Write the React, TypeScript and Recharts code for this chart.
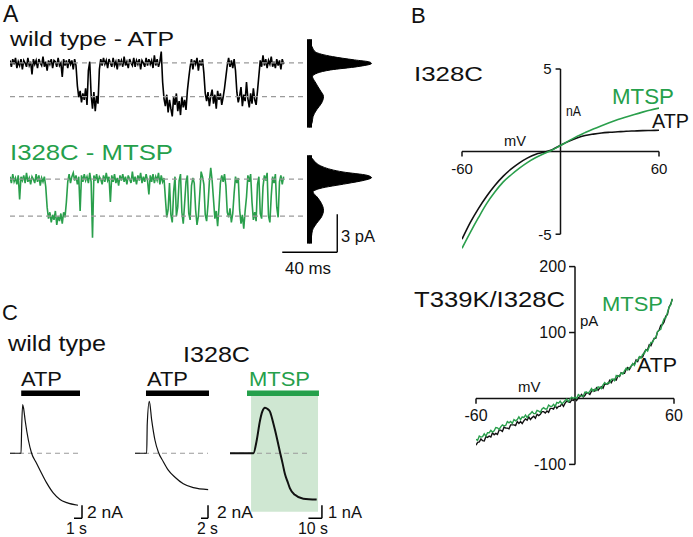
import React from "react"
import { LineChart, Line, XAxis, YAxis, ReferenceLine, ReferenceArea, ComposedChart, Area } from "recharts"

const FONT = '"Liberation Sans", Arial, Helvetica, sans-serif'
const GREEN = "#25a04b"
const GREEN_TRACE = "#2a9f4c"
const SHADE = "#cfe7d2"
const DASH = "#9a9a9a"

// ---- panel A: single channel recordings (pA, one sample per ms) ----
const wtAtpTrace = [
  0.2, -0.3, 0.3, -0.1, 0.4, -0.4, 0.1, -0.2, 0.3, -0.5,
  0.2, 0.0, -0.3, 0.4, -0.2, 0.1, -0.9, 0.3, -0.1, 0.2,
  -0.4, 0.3, 0.0, -0.2, 0.5, -0.3, 0.1, -0.6, 0.2, -0.1,
  0.3, -0.4, 0.2, 0.1, -0.3, 0.4, -0.2, 0.0, -1.1, 0.3,
  -0.2, 0.2, -0.4, 0.3, -0.1, 0.2, -0.5, 0.3, -0.2,
  -1.8, -2.7, -2.2, -3.1, -2.4, -2.9, -2.0, -3.3, -0.6, 0.1, -2.5, -3.6, -2.3, -3.8, -2.6, -3.2,
  -0.5, 0.3, -0.2, 0.4, -0.1, 0.2, -0.4, 0.3, 0.0, -0.3,
  0.4, -0.2, 0.1, -0.5, 0.3, -0.1, 0.2, -0.3, 0.5, -0.2,
  0.1, -0.4, 0.3, 0.0, -0.2, 0.4, -0.3, 0.2, -0.1, 0.3,
  -0.5, 0.2, 0.0, -0.3, 0.4, -0.2, 0.3, -0.1, 0.2, -0.4,
  0.6, -0.2, 0.3, -0.3, 0.1, 0.9,
  -1.5, -2.8, -3.4, -2.5, -3.9, -2.9, -3.6, -4.2, -2.7, -3.3,
  -2.4, -3.8, -3.0, -4.1, -2.6, -3.5, -2.9, -3.7, -2.2, -1.2,
  -0.3, 0.3, -0.5, 0.2, -0.1, 0.4, -0.6, 0.2, -0.2, 0.3, -0.8,
  -2.4, -3.0, -2.3, -3.4, -2.6, -2.1, -3.2, -2.5, -3.6, -2.2, -2.9, -2.4, -3.3, -2.7, -2.0, -1.1,
  -0.2, 0.4, -0.3, 0.2, -0.4, 0.3, -0.6,
  -2.3, -3.1, -2.6, -1.9, -3.4, -2.5, -3.0, -1.5, -2.8, -3.5, -2.4, -3.2, -2.0, -2.9, -3.3, -2.2, -1.0,
  0.2, -0.3, 0.6, -0.2, 0.3, -0.4, 0.2, -0.1, 0.5, -0.3, 0.1, -0.4, 0.3, -0.2, 0.2, -0.5, 0.3, -0.1,
]

const mtspTrace = [
  0.2, -0.3, 0.4, -0.2, 0.1, -0.4, 0.3, -1.6, 0.2, -0.1,
  0.3, -0.3, 0.5, -0.2, 0.1, -0.4, 0.2, 0.0, -0.3, 0.4,
  -0.2, 0.3, -0.5, 0.1, -0.2, 0.2, -0.6,
  -2.2, -3.1, -2.6, -3.4, -2.8, -3.2, -2.5, -3.6, -2.9, -3.3, -2.7, -3.5, -2.6, -3.0, -1.8,
  -0.2, 0.4, -0.3, 0.2, 0.5, -0.1, 0.3, -0.4, 0.2, -2.5,
  0.3, -0.2, 0.4, -0.1, 0.2, -0.3, 0.5, -0.2, -4.6, 0.3,
  -0.1, 0.4, -0.3, 0.2, 0.0, -0.4, 0.3, -0.2, 0.5, -0.1,
  0.2, -1.8, 0.3, -0.2, 0.4, -0.3, 0.1, -0.5, 0.3, -0.1,
  0.4, -0.2, 0.2, -0.4, 0.3, 0.0, -0.3, 0.6, -0.2, 0.2,
  -0.4, 0.3, -0.1, 0.5, -0.3, 0.2, -0.2, 0.4, -0.1, -1.2,
  0.3, -0.2, 0.4, -0.3, 0.2, -0.1, 0.5, -0.4, 0.3, -0.2, 0.1,
  -1.5, -3.0, -2.4, -0.3, -2.8, -3.4, -1.0, 0.2, -2.9, -2.2,
  -0.1, 0.4, -2.6, -3.5, -1.9, -0.2, 0.3, -2.7, -3.2, -0.5,
  0.1, -0.3, -2.4, -3.6, -2.9, -1.2, 0.6, 0.2, -0.4, -2.8,
  -3.3, -2.0, -0.2, 0.9, -0.1, -1.6, -3.1, -2.5, -3.7, -2.2,
  -0.3, 0.3, -0.2, 0.4, -0.5, -2.6, -3.0, -2.3, -3.4, -2.7,
  -1.1, 0.2, -0.3, 0.1, -2.4, -3.5, -2.8, -3.9, -2.5, -1.4,
  0.3, -0.2, 0.4, -1.8, -3.2, -2.6, -3.3, -0.4, 0.2, -2.7,
  -3.1, -0.6, 0.3, -0.1, 0.5, -2.9, -3.4, -1.3, 0.2, -0.3,
  0.4, -2.2, -3.0, -0.2, 0.3, -0.4, 0.2,
]

const wtLevels = [0, -2.65]
const mtspLevels = [0, -2.9]

// amplitude histograms, drawn sideways
const wtHistAmp = [1.87, 1.28, 0.87, 0.5, 0.24, 0.08, -0.04, -0.29, -0.55, -0.79, -1.08, -1.47, -1.81, -2.13, -2.65, -3.17, -3.7, -4.23, -4.72, -5.09]
const wtHistCount = [0, 2.5, 6, 23, 45, 60, 62, 48, 21, 8, 3, 5.5, 8, 10.5, 14, 12, 7, 3.5, 2.5, 0]
const mtspHistAmp = [1.89, 1.65, 0.97, 0.57, 0.31, 0.12, -0.08, -0.34, -0.73, -1.0, -1.39, -1.91, -2.44, -2.97, -3.49, -4.02, -4.49, -5.07]
const mtspHistCount = [0, 2.5, 13.5, 33.5, 57.5, 62, 55, 37.5, 10.5, 3.5, 7.5, 12, 14, 12, 7, 3, 2, 0]

// ---- panel B: I-V relations ----
const ivTopV = [-60, -55, -50, -45, -40, -35, -30, -25, -20, -15, -10, -5, 0, 5, 10, 15, 20, 25, 30, 35, 40, 45, 50, 55, 60]
const ivTopAtp = [-5.3, -4.3, -3.45, -2.7, -2.05, -1.5, -1.05, -0.68, -0.38, -0.16, -0.04, 0.12, 0.38, 0.62, 0.82, 0.97, 1.06, 1.13, 1.17, 1.2, 1.23, 1.25, 1.27, 1.28, 1.29]
const ivTopMtsp = [-5.85, -4.9, -4.0, -3.15, -2.45, -1.85, -1.4, -1.0, -0.65, -0.36, -0.12, 0.1, 0.37, 0.65, 0.92, 1.15, 1.37, 1.57, 1.76, 1.94, 2.1, 2.25, 2.39, 2.52, 2.63]
const ivTopXTicks = [-60, 60]
const ivTopYTicks = [5, -5]

// ramp I-V, 1 mV per sample
const ivBotV = [
  -60, -59, -58, -57, -56, -55, -54, -53, -52, -51, -50, -49, -48, -47, -46, -45, -44, -43, -42, -41,
  -40, -39, -38, -37, -36, -35, -34, -33, -32, -31, -30, -29, -28, -27, -26, -25, -24, -23, -22, -21,
  -20, -19, -18, -17, -16, -15, -14, -13, -12, -11, -10, -9, -8, -7, -6, -5, -4, -3, -2, -1,
  0, 1, 2, 3, 4, 5, 6, 7, 8, 9, 10, 11, 12, 13, 14, 15, 16, 17, 18, 19,
  20, 21, 22, 23, 24, 25, 26, 27, 28, 29, 30, 31, 32, 33, 34, 35, 36, 37, 38, 39,
  40, 41, 42, 43, 44, 45, 46, 47, 48, 49, 50, 51, 52, 53, 54, 55, 56, 57, 58, 59,
]
const ivBotMtsp = [
  -62, -63.5, -57, -58.5, -58, -53.5, -57, -52, -52, -48.5, -51, -49, -44, -44.5, -47, -43, -40, -41.5, -41, -35,
  -37, -35, -38, -32, -34, -32, -28, -32, -28, -29, -25, -29, -25, -23, -20, -23, -23, -18, -19, -21,
  -16, -14, -16, -16, -10, -12, -12, -9, -12, -6, -7, -4, -8, -6, -3, -1, -5, -1, 2, 0,
  2, 0, 6, 4, 4, 3.2, 9.5, 9.8, 8, 11, 15, 11, 14, 12.2, 17.5, 16.8, 15, 20.5, 24, 21.5,
  24, 23.5, 29, 29.5, 27, 34.8, 33.5, 34.2, 39, 37, 42, 46, 43, 47, 48, 53, 50, 56.5, 58, 63.5,
  61, 67, 68, 74, 72, 78.5, 85, 85, 91, 92.5, 101, 103.5, 105, 114, 121, 122, 130, 138.5, 142, 151,
]
const ivBotAtp = [
  -71, -66.5, -66, -61.5, -64, -64.5, -58, -59, -57, -58.5, -52, -55, -53, -54.5, -48, -48, -50, -43.5, -45, -45,
  -46, -40, -40, -40, -41, -35, -38, -35, -38, -34, -31, -33, -28, -32, -29, -27, -30, -24, -26, -24,
  -20, -20, -22, -19, -21, -15, -15, -16, -11, -15, -12, -12, -8, -12, -7, -4, -5, -6, -2, -3,
  1, -3, 1, 3, 6, 2.2, 4.5, 8.8, 8, 6, 11, 13, 11, 16.2, 12.5, 15.8, 18, 15.5, 22, 21.5,
  22, 27.5, 24, 28.5, 29, 27.8, 34.5, 33.2, 39, 38, 38, 44, 47, 44, 49, 52, 52, 58.5, 56, 62.5,
  63, 63, 70, 74, 74, 81.5, 80, 86, 91, 91.5, 101, 103.5, 111, 112, 116, 125, 127, 138.5, 143, 151,
]
const ivBotXTicks = [-60, 60]
const ivBotYTicks = [200, 100, -100]

// ---- panel C: macroscopic responses (time s, current nA) ----
const c1Time = [0, 1.38, 1.45, 1.58, 1.7, 1.9, 2.3, 2.7, 3.3, 3.75, 4.6, 5.4, 6.25, 7.1, 8.5]
const c1Current = [0, 0, 3.5, 7.5, 6.9, 5.0, 2.0, 0, -1.5, -2.6, -4.6, -6.1, -7.1, -7.6, -8.0]
const c2Time = [0, 3.34, 3.5, 4.09, 4.77, 5.71, 6.66, 8.09, 9.51, 11.43, 13.8, 16.66, 20.9]
const c2Current = [0, 0, 4.5, 8.0, 5.1, 2.0, 0.2, -1.3, -2.6, -3.7, -4.7, -5.3, -5.6]
const c3Time = [0, 17.3, 19.8, 22.2, 23.9, 25.9, 27.9, 29.6, 31.6, 33.3, 35.3, 37.0, 39.0, 40.7, 42.7, 44.4, 48.1, 54.3, 64.2]
const c3Current = [0, 0, 1.0, 2.5, 3.2, 3.5, 3.4, 3.2, 2.5, 1.8, 0.9, 0.1, -0.8, -1.6, -2.2, -2.7, -3.2, -3.5, -3.56]

const noMargin = { top: 0, right: 0, bottom: 0, left: 0 }

function SingleChannel({ values, levels, color, top, height, yDomain, scaleBar }: any) {
  const rows = values.map((v: number, i: number) => ({ t: i, pA: v }))
  return (
    <div style={{ position: "absolute", left: 10, top }}>
      <LineChart width={330} height={height} data={rows} margin={noMargin}>
        <XAxis type="number" dataKey="t" domain={[0, 240]} hide allowDataOverflow />
        <YAxis type="number" domain={yDomain} hide allowDataOverflow />
        <Line type="linear" dataKey="pA" stroke={color} strokeWidth={1.6} dot={false} isAnimationActive={false} />
        {levels.map((l: number) => (
          <ReferenceLine key={l} segment={[{ x: 0, y: l }, { x: 215, y: l }]} stroke={DASH} strokeDasharray="5 4" strokeWidth={1.2} />
        ))}
        {scaleBar && (
          <ReferenceLine segment={[{ x: 198, y: -5.75 }, { x: 238, y: -5.75 }]} stroke="#000" strokeWidth={1.4} />
        )}
        {scaleBar && (
          <ReferenceLine segment={[{ x: 238, y: -5.75 }, { x: 238, y: -2.75 }]} stroke="#000" strokeWidth={1.4} />
        )}
      </LineChart>
    </div>
  )
}

function AmpHistogram({ amp, count, top, height, yDomain }: any) {
  const rows = amp.map((a: number, i: number) => ({ amp: a, count: count[i] }))
  return (
    <div style={{ position: "absolute", left: 303, top }}>
      <ComposedChart layout="vertical" width={72} height={height} data={rows} margin={{ top: 0, right: 0, bottom: 0, left: 6.5 }}>
        <XAxis type="number" domain={[0, 65.5]} hide allowDataOverflow />
        <YAxis type="number" dataKey="amp" domain={yDomain} reversed hide allowDataOverflow />
        <Area type="monotone" dataKey="count" fill="#000" fillOpacity={1} stroke="#000" strokeWidth={1} isAnimationActive={false} />
        <ReferenceLine segment={[{ x: 0, y: amp[0] }, { x: 0, y: amp[amp.length - 1] }]} stroke="#000" strokeWidth={5} />
      </ComposedChart>
    </div>
  )
}

function IVTop() {
  const rows = ivTopV.map((v, i) => ({ v, atp: ivTopAtp[i], mtsp: ivTopMtsp[i] }))
  return (
    <div style={{ position: "absolute", left: 415, top: 55 }}>
      <LineChart width={265} height={216} data={rows} margin={{ top: 14, right: 21, bottom: 12, left: 47 }}>
        <XAxis type="number" dataKey="v" domain={[-60, 60]} hide allowDataOverflow />
        <YAxis type="number" domain={[-6.5, 5]} hide allowDataOverflow />
        <ReferenceLine segment={[{ x: -60, y: 0 }, { x: 60, y: 0 }]} stroke="#111" strokeWidth={1.5} />
        <ReferenceLine segment={[{ x: 0, y: -5 }, { x: 0, y: 5 }]} stroke="#111" strokeWidth={1.5} />
        {ivTopXTicks.map((t) => (
          <ReferenceLine key={"x" + t} segment={[{ x: t, y: 0 }, { x: t, y: -0.3 }]} stroke="#111" strokeWidth={1.5}
            label={{ value: String(t), position: "bottom", offset: 7, fontSize: 15, fill: "#111" }} />
        ))}
        {ivTopYTicks.map((t) => (
          <ReferenceLine key={"y" + t} segment={[{ x: 0, y: t }, { x: -3, y: t }]} stroke="#111" strokeWidth={1.5}
            label={{ value: String(t), position: "left", offset: 4, fontSize: 15, fill: "#111" }} />
        ))}
        <Line type="monotone" dataKey="atp" stroke="#111" strokeWidth={1.6} dot={false} isAnimationActive={false} />
        <Line type="monotone" dataKey="mtsp" stroke={GREEN_TRACE} strokeWidth={1.6} dot={false} isAnimationActive={false} />
      </LineChart>
    </div>
  )
}

function IVBottom() {
  const rows = ivBotV.map((v, i) => ({ v, atp: ivBotAtp[i], mtsp: ivBotMtsp[i] }))
  return (
    <div style={{ position: "absolute", left: 420, top: 248 }}>
      <LineChart width={276} height={253} data={rows} margin={{ top: 12, right: 22, bottom: 30, left: 56 }}>
        <XAxis type="number" dataKey="v" domain={[-60, 60]} hide allowDataOverflow />
        <YAxis type="number" domain={[-110, 210]} hide allowDataOverflow />
        <ReferenceLine segment={[{ x: -60, y: 0 }, { x: 60, y: 0 }]} stroke="#111" strokeWidth={1.5} />
        <ReferenceLine segment={[{ x: 0, y: -100 }, { x: 0, y: 200 }]} stroke="#111" strokeWidth={1.5} />
        {ivBotXTicks.map((t) => (
          <ReferenceLine key={"x" + t} segment={[{ x: t, y: 0 }, { x: t, y: -8 }]} stroke="#111" strokeWidth={1.5}
            label={{ value: String(t), position: "bottom", offset: 6, fontSize: 16, fill: "#111" }} />
        ))}
        {ivBotYTicks.map((t) => (
          <ReferenceLine key={"y" + t} segment={[{ x: 0, y: t }, { x: -3.6, y: t }]} stroke="#111" strokeWidth={1.5}
            label={{ value: String(t), position: "left", offset: 3, fontSize: 16, fill: "#111" }} />
        ))}
        <Line type="linear" dataKey="atp" stroke="#111" strokeWidth={1.4} dot={false} isAnimationActive={false} />
        <Line type="linear" dataKey="mtsp" stroke={GREEN_TRACE} strokeWidth={1.4} dot={false} isAnimationActive={false} />
      </LineChart>
    </div>
  )
}

function Response({ left, width, tDomain, iDomain, time, current, bar, barColor, dashEnd, scale, shade, lineWidth }: any) {
  const rows = time.map((t: number, i: number) => ({ t, nA: current[i] }))
  return (
    <div style={{ position: "absolute", left, top: 385 }}>
      <LineChart width={width} height={136.5} data={rows} margin={noMargin}>
        <XAxis type="number" dataKey="t" domain={tDomain} hide allowDataOverflow />
        <YAxis type="number" domain={iDomain} hide allowDataOverflow />
        {shade && <ReferenceArea x1={shade[0]} x2={shade[1]} y1={shade[2]} y2={shade[3]} fill={SHADE} fillOpacity={1} stroke="none" />}
        <ReferenceArea x1={bar[0]} x2={bar[1]} y1={bar[2]} y2={bar[3]} fill={barColor} fillOpacity={1} stroke="none" />
        <ReferenceLine segment={[{ x: 0, y: 0 }, { x: dashEnd, y: 0 }]} stroke={DASH} strokeDasharray="5 4" strokeWidth={1.2} />
        <ReferenceLine segment={[{ x: scale[0], y: scale[2] }, { x: scale[1], y: scale[2] }]} stroke="#000" strokeWidth={1.5} />
        <ReferenceLine segment={[{ x: scale[1], y: scale[2] }, { x: scale[1], y: scale[3] }]} stroke="#000" strokeWidth={1.5} />
        <Line type="monotone" dataKey="nA" stroke="#111" strokeWidth={lineWidth} dot={false} isAnimationActive={false} />
      </LineChart>
    </div>
  )
}

function Txt({ x, y, size, len, color, children }: any) {
  return (
    <text x={x} y={y} fontSize={size} fill={color || "#111"} textLength={len} lengthAdjust={len ? "spacingAndGlyphs" : undefined}>
      {children}
    </text>
  )
}

export default function App() {
  return (
    <div style={{ position: "absolute", left: 0, top: 0, width: 693, height: 537, background: "#fff", fontFamily: FONT, overflow: "hidden" }}>
      <SingleChannel values={wtAtpTrace} levels={wtLevels} color="#000" top={35} height={100} yDomain={[-5.67, 2.2]} />
      <SingleChannel values={mtspTrace} levels={mtspLevels} color={GREEN_TRACE} top={150} height={110} yDomain={[-6.36, 2.3]} scaleBar />
      <AmpHistogram amp={wtHistAmp} count={wtHistCount} top={35} height={100} yDomain={[-5.67, 2.2]} />
      <AmpHistogram amp={mtspHistAmp} count={mtspHistCount} top={150} height={110} yDomain={[-6.36, 2.3]} />

      <IVTop />
      <IVBottom />

      <Response left={10} width={80} tDomain={[0, 10]} iDomain={[-10.5, 10.5]} time={c1Time} current={c1Current}
        bar={[1.4, 8.75, 8.8, 9.65]} barColor="#000" dashEnd={9} scale={[8, 9, -10, -8]} lineWidth={1.2} />
      <Response left={135} width={77} tDomain={[0, 22]} iDomain={[-10.5, 10.5]} time={c2Time} current={c2Current}
        bar={[3.14, 21.14, 8.8, 9.65]} barColor="#000" dashEnd={20.86} scale={[18.86, 20.86, -10, -8]} lineWidth={1.2} />
      <Response left={230} width={94.5} tDomain={[0, 70]} iDomain={[-5.25, 5.25]} time={c3Time} current={c3Current}
        bar={[12.6, 65.9, 4.4, 4.83]} barColor={GREEN} dashEnd={59.3} scale={[58.1, 68.1, -5, -4]}
        shade={[15.6, 65.2, -4.5, 4.4]} lineWidth={2} />

      <svg width={693} height={537} style={{ position: "absolute", left: 0, top: 0, pointerEvents: "none" }}>
        <Txt x={3} y={22} size={23}>A</Txt>
        <Txt x={10} y={46} size={20} len={164}>wild type - ATP</Txt>
        <Txt x={10} y={159.5} size={21.5} len={163} color={GREEN}>I328C - MTSP</Txt>
        <Txt x={341} y={242} size={16} len={34}>3 pA</Txt>
        <Txt x={285} y={274} size={16} len={46}>40 ms</Txt>

        <Txt x={411} y={23} size={22}>B</Txt>
        <Txt x={414} y={81} size={21} len={69}>I328C</Txt>
        <Txt x={566} y={116} size={14} len={15}>nA</Txt>
        <Txt x={504} y={146} size={14} len={22}>mV</Txt>
        <Txt x={612} y={104} size={22} len={62} color={GREEN}>MTSP</Txt>
        <Txt x={652} y={127.5} size={20} len={37}>ATP</Txt>

        <Txt x={414} y={307} size={22} len={151}>T339K/I328C</Txt>
        <Txt x={580} y={326} size={15}>pA</Txt>
        <Txt x={518} y={392} size={15}>mV</Txt>
        <Txt x={602} y={311} size={21} len={61} color={GREEN}>MTSP</Txt>
        <Txt x={637} y={372} size={21} len={40}>ATP</Txt>

        <Txt x={2} y={320} size={22}>C</Txt>
        <Txt x={8} y={351} size={22} len={98}>wild type</Txt>
        <Txt x={183} y={362} size={22} len={67}>I328C</Txt>
        <Txt x={21} y={386} size={21} len={41}>ATP</Txt>
        <Txt x={147} y={386} size={21} len={41}>ATP</Txt>
        <Txt x={249} y={386} size={21} len={61} color={GREEN}>MTSP</Txt>
        <Txt x={87} y={518} size={17} len={36}>2 nA</Txt>
        <Txt x={66} y={534} size={17} len={21}>1 s</Txt>
        <Txt x={217} y={518} size={17} len={36}>2 nA</Txt>
        <Txt x={197} y={534} size={17} len={21}>2 s</Txt>
        <Txt x={328} y={518} size={17} len={34}>1 nA</Txt>
        <Txt x={298} y={534} size={17} len={30}>10 s</Txt>
      </svg>
    </div>
  )
}
